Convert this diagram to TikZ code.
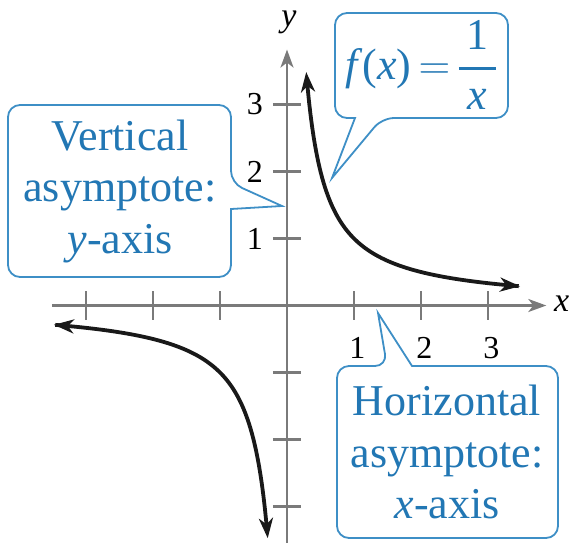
\RequirePackage{fix-cm}
\documentclass[tikz,border=0pt]{standalone}
\usepackage{amsmath}
\usepackage{fontspec}
\setmainfont{Liberation Serif}
\usetikzlibrary{arrows.meta}
\definecolor{axisgray}{HTML}{7A7A7A}
\definecolor{txtblue}{HTML}{2277B4}
\definecolor{boxblue}{HTML}{3E8FC6}
\begin{document}
\begin{tikzpicture}[x=1pt,y=-1pt,
  axis/.style={draw=axisgray,line width=2.4pt},
  axtip/.style={-{Stealth[length=18pt,width=13pt,inset=5pt]}},
  curve/.style={draw=black!90,line width=3.8pt,{Stealth[length=20pt,width=14pt,inset=6pt]}-{Stealth[length=20pt,width=14pt,inset=6pt]}},
  callout/.style={draw=boxblue,line width=1.8pt,fill=white},
  calltext/.style={text=txtblue,align=center,inner sep=0pt,font=\fontsize{44}{51.5}\selectfont},
  ticklab/.style={inner sep=0pt,font=\fontsize{32}{36}\selectfont},
  axlab/.style={inner sep=0pt,font=\fontsize{34}{38}\selectfont\itshape}]
\useasboundingbox (0,0) rectangle (572,542);
\begin{scope}[shift={(287,305.5)},x=67pt,y=67pt]
  \coordinate (xl) at (-3.51,0);
  \coordinate (xr) at (3.87,0);
  \coordinate (yb) at (0,-3.7);
  \coordinate (yt) at (0,3.82);
  \draw[axis,axtip] (xl) -- (xr);
  \draw[axis,axtip] (yb) -- (yt);
  \foreach \k in {-3,-2,-1,1,2,3}{
    \draw[axis] (\k,-0.21) -- (\k,0.21);
    \draw[axis] (-0.21,\k) -- (0.21,\k);
  }
  \node[ticklab] (lx1) at (1.05,-0.63) {1};
  \node[ticklab] (lx2) at (2.05,-0.63) {2};
  \node[ticklab] (lx3) at (3.05,-0.63) {3};
  \node[ticklab] (ly1) at (-0.48,1) {1};
  \node[ticklab] (ly2) at (-0.48,2) {2};
  \node[ticklab] (ly3) at (-0.48,3) {3};
  \node[axlab] (xlab) at (4.1,0.02) {x};
  \node[axlab] (ylab) at (0.03,4.22) {y};
  \draw[curve,domain=0.287:3.48,samples=150,variable=\t] plot (\t,{1/\t});
  \draw[curve,domain=-3.48:-0.287,samples=150,variable=\t] plot (\t,{1/\t});
\end{scope}
% callouts
\draw[callout,rounded corners=12pt] (420,13) -- (508,13) -- (508,118) -- (382,118) [sharp corners] -- (332,178) -- (355,118) [rounded corners=12pt] -- (335,118) -- (335,13) -- cycle;
\draw[callout,rounded corners=12pt] (120,105) -- (231,105) -- (231,183) [sharp corners] -- (282,206) -- (231,209) [rounded corners=12pt] -- (231,277) -- (8,277) -- (8,105) -- cycle;
\draw[callout,rounded corners=12pt] (447,538) -- (337,538) -- (337,366) -- (387,366) [sharp corners] -- (378,313) -- (412,366) [rounded corners=12pt] -- (558,366) -- (558,538) -- cycle;
\node[calltext] (vt) at (120,191) {Vertical\\asymptote:\\\textit{y}-axis};
\node[calltext] (ht) at (447,452) {Horizontal\\asymptote:\\\textit{x}-axis};
\node[calltext,font=\fontsize{44}{50}\selectfont] (ft) at (421,65) {\textit{f}(\textit{x})\,$=$\,$\genfrac{}{}{2.6pt}{0}{\,\text{1}\,}{\,\textit{x}\,}$};
\end{tikzpicture}
\end{document}
